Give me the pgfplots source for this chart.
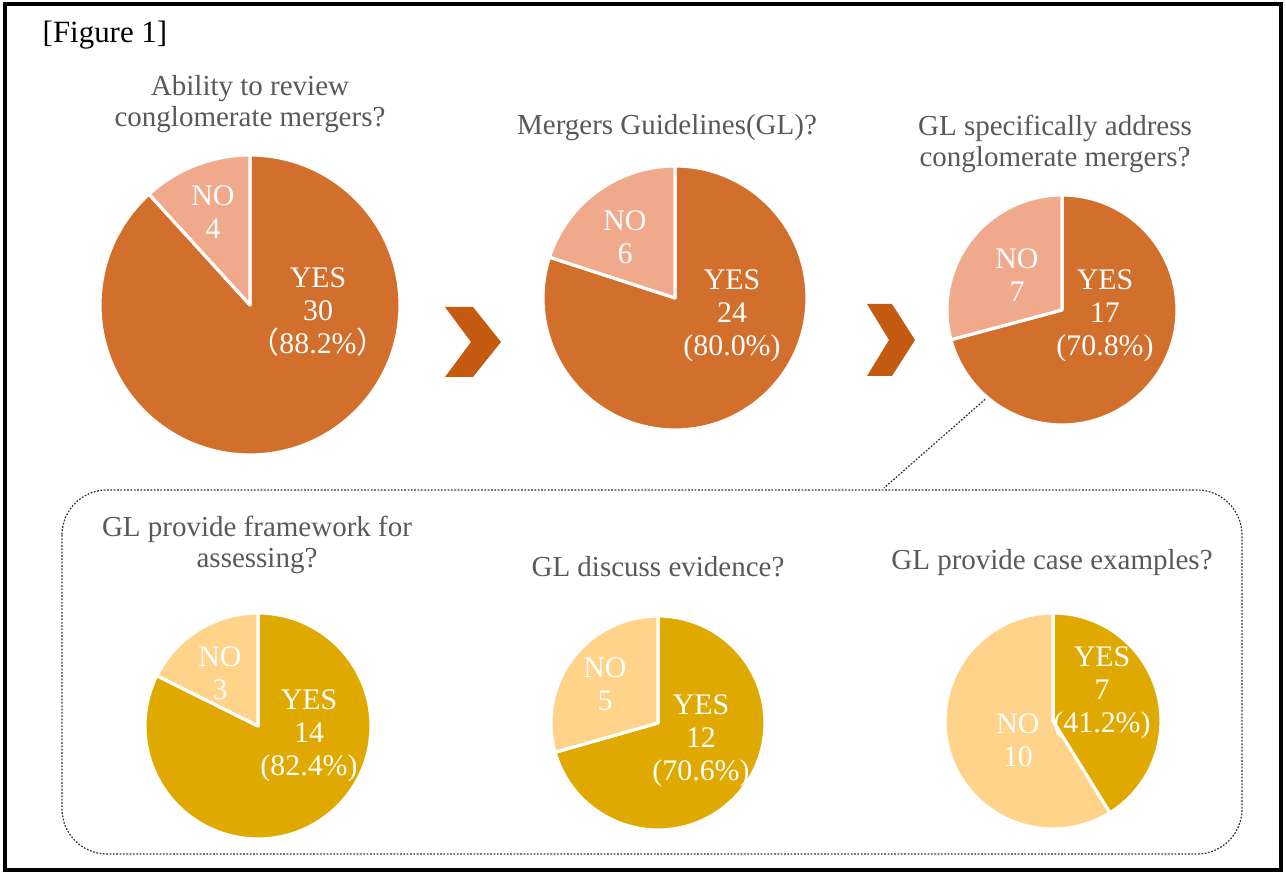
\documentclass[border=0pt]{standalone}
\usepackage{pgfplots}
\pgfplotsset{compat=1.18}
\usepackage{fontspec}
\setmainfont{Liberation Serif}
\newfontfamily\cjk{Noto Sans CJK JP}
\definecolor{orangedark}{RGB}{211,111,44}
\definecolor{orangelight}{RGB}{240,169,138}
\definecolor{golddark}{RGB}{224,169,0}
\definecolor{goldlight}{RGB}{255,211,138}
\definecolor{chevron}{RGB}{197,90,17}
\definecolor{titlegray}{RGB}{89,89,89}
\tikzset{
  ttl/.style={align=center, text=titlegray, font=\fontsize{8.25}{8.8}\selectfont, inner sep=0pt},
  lbl/.style={align=center, text=white, font=\fontsize{8.5}{9.4}\selectfont, inner sep=0pt},
}
% pie: cx, cy (px), radius (cm), yes, no, colour of yes, colour of no
\newcommand{\pie}[7]{%
  \filldraw[fill=#6, draw=white, line width=0.9pt, line join=round]
    (axis cs:#1,#2) -- ++(90:#3)
    arc[start angle=90, delta angle={-360*#4/(#4+#5)}, radius=#3] -- cycle;
  \filldraw[fill=#7, draw=white, line width=0.9pt, line join=round]
    (axis cs:#1,#2) -- ++({90-360*#4/(#4+#5)}:#3)
    arc[start angle={90-360*#4/(#4+#5)}, end angle=-270, radius=#3] -- cycle;
}
\begin{document}
\begin{tikzpicture}
\begin{axis}[
  scale only axis, width=12.86cm, height=8.75cm,
  xmin=0, xmax=1286, ymin=0, ymax=875, y dir=reverse,
  hide axis, clip=false,
]
\path (axis cs:0,0) rectangle (axis cs:1286,875);
\draw[black, line width=0.9pt] (axis cs:5,4) rectangle (axis cs:1281,870);
\node[anchor=base west, inner sep=0pt, font=\fontsize{8.8}{9}\selectfont] at (axis cs:42,43) {[Figure 1]};

% dotted group box and connector
\draw[black!80, line width=0.35pt, dash pattern=on 0.5pt off 0.45pt, rounded corners=0.45cm]
  (axis cs:62,490) rectangle (axis cs:1242,854);
\draw[black!80, line width=0.35pt, dash pattern=on 0.5pt off 0.45pt]
  (axis cs:990,395) -- (axis cs:884,488);

% chevrons
\fill[chevron] (axis cs:445,307) -- (axis cs:473,307) -- (axis cs:501,342) -- (axis cs:473,377) -- (axis cs:445,377) -- (axis cs:471,342) -- cycle;
\fill[chevron] (axis cs:867,304) -- (axis cs:892,304) -- (axis cs:915,340) -- (axis cs:892,376) -- (axis cs:867,376) -- (axis cs:889,340) -- cycle;

% pies: yes / no
\pie{250}{305}{1.50cm}{30}{4}{orangedark}{orangelight}
\pie{675}{298}{1.32cm}{24}{6}{orangedark}{orangelight}
\pie{1062}{310}{1.15cm}{17}{7}{orangedark}{orangelight}
\pie{258}{726}{1.13cm}{14}{3}{golddark}{goldlight}
\pie{658}{723}{1.07cm}{12}{5}{golddark}{goldlight}
\pie{1053}{721}{1.08cm}{7}{10}{golddark}{goldlight}

% titles
\node[ttl] at (axis cs:250,104) {Ability to review\\conglomerate mergers?};
\node[ttl] at (axis cs:667,128) {Mergers Guidelines(GL)?};
\node[ttl] at (axis cs:1055,144) {GL specifically address\\conglomerate mergers?};
\node[ttl] at (axis cs:257,545) {GL provide framework for\\assessing?};
\node[ttl] at (axis cs:658,567) {GL discuss evidence?};
\node[ttl] at (axis cs:1052,563) {GL provide case examples?};

% slice labels
\node[lbl] at (axis cs:213,212) {NO\\4};
\node[lbl] at (axis cs:318,312) {YES\\30\\{\cjk （}88.2\%{\cjk ）}};
\node[lbl] at (axis cs:625,237) {NO\\6};
\node[lbl] at (axis cs:732,316) {YES\\24\\(80.0\%)};
\node[lbl] at (axis cs:1017,275) {NO\\7};
\node[lbl] at (axis cs:1105,316) {YES\\17\\(70.8\%)};
\node[lbl] at (axis cs:220,673) {NO\\3};
\node[lbl] at (axis cs:309,736) {YES\\14\\(82.4\%)};
\node[lbl] at (axis cs:605,684) {NO\\5};
\node[lbl] at (axis cs:701,741) {YES\\12\\(70.6\%)};
\node[lbl] at (axis cs:1102,693) {YES\\7\\(41.2\%)};
\node[lbl] at (axis cs:1018,740) {NO\\10};
\end{axis}
\end{tikzpicture}
\end{document}
